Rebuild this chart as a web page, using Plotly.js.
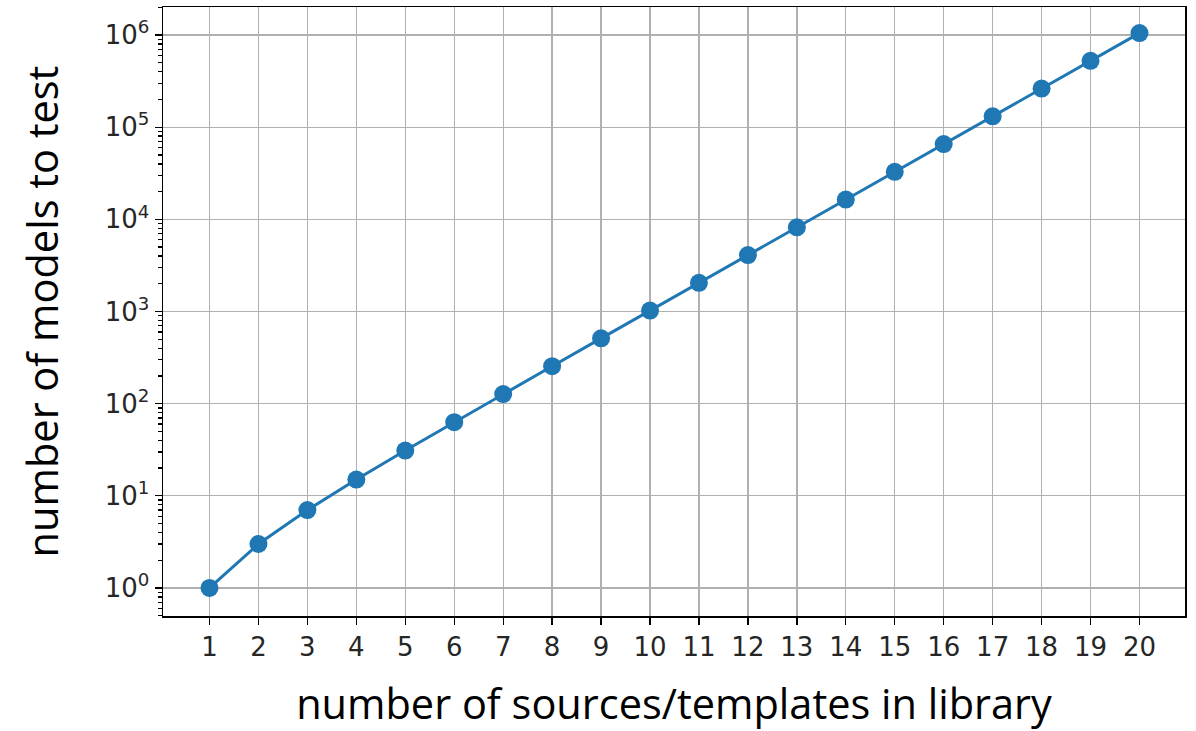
<!DOCTYPE html>
<html>
<head>
<meta charset="utf-8">
<script src="https://cdn.plot.ly/plotly-3.0.1.min.js"></script>
<style>html,body{margin:0;padding:0;background:#fff;}#chart{width:1196px;height:731px;}</style>
</head>
<body>
<div id="chart"></div>
<script>
const sources = [1,2,3,4,5,6,7,8,9,10,11,12,13,14,15,16,17,18,19,20];
const models = [1,3,7,15,31,63,127,255,511,1023,2047,4095,8191,16383,32767,65535,131071,262143,524287,1048575];
const yTickVals = [1,10,100,1000,10000,100000,1000000];
const yTickText = ['10<sup>0</sup>','10<sup>1</sup>','10<sup>2</sup>','10<sup>3</sup>','10<sup>4</sup>','10<sup>5</sup>','10<sup>6</sup>'];
const xTitle = "number of sources/templates in library";
const yTitle = "number of models to test";

const trace = {
  x: sources, y: models, type: 'scatter', mode: 'lines+markers',
  line: {color: '#1f77b4', width: 3},
  marker: {color: '#1f77b4', size: 18},
  hoverinfo: 'none'
};
const layout = {
  width: 1196, height: 731,
  margin: {l: 163, r: 11, t: 7, b: 115},
  paper_bgcolor: '#fff', plot_bgcolor: '#fff',
  showlegend: false,
  font: {family: 'DejaVu Sans', color: '#262626', size: 22},
  xaxis: {
    range: [0.05, 20.93], tickvals: sources, ticktext: sources.map(String),
    ticks: 'outside', ticklen: 7, tickwidth: 1.3, tickcolor: '#000',
    tickfont: {size: 26, family: 'DejaVu Sans', color: '#262626'},
    showgrid: true, gridcolor: '#b0b0b0', gridwidth: 1.3,
    showline: true, linecolor: '#000', linewidth: 1.5, mirror: true,
    zeroline: false,
    title: {text: xTitle, font: {size: 41.5, family: 'Open Sans', color: '#000'}, standoff: 30}
  },
  yaxis: {
    type: 'log', range: [-0.304, 6.304],
    tickvals: yTickVals, ticktext: yTickText,
    ticks: 'outside', ticklen: 7, tickwidth: 1.3, tickcolor: '#000',
    tickfont: {size: 26, family: 'DejaVu Sans', color: '#262626'},
    minor: {ticks: 'outside', ticklen: 4, tickcolor: '#000', dtick: 'D1', showgrid: false},
    showgrid: true, gridcolor: '#b0b0b0', gridwidth: 1.3,
    showline: true, linecolor: '#000', linewidth: 1.5, mirror: true,
    zeroline: false,
    title: {text: yTitle, font: {size: 41.5, family: 'Open Sans', color: '#000'}, standoff: 33}
  }
};
Plotly.newPlot('chart', [trace], layout, {displayModeBar: false, staticPlot: true});
</script>
</body>
</html>
